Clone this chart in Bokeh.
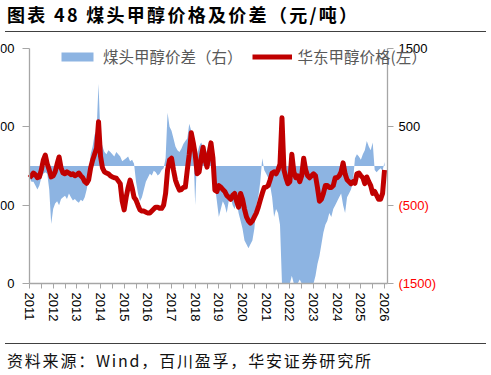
from bokeh.plotting import figure
from bokeh.models import (Range1d, LinearAxis, FixedTicker, Legend, LegendItem,
                          Div, ColumnDataSource, CustomJSTickFormatter)
from bokeh.layouts import column
from bokeh.embed import file_html
from bokeh.resources import INLINE

# ---------------- data (monthly, Jan 2011 .. Jan 2026) ----------------
start_year = 2011
# 华东甲醇价格 (元/吨, left axis)
price = [
    2700, 2750, 2820, 2780, 2700, 2720, 2900, 3150, 3280, 3050, 2900, 2720,   # 2011
    2750, 2850, 3050, 3230, 2950, 2820, 2800, 2850, 2820, 2780, 2800, 2750,   # 2012
    2780, 2820, 2750, 2700, 2600, 2560, 2650, 2950, 3150, 3300, 3450, 4130,   # 2013
    3250, 2950, 2850, 2820, 2800, 2750, 2720, 2700, 2690, 2620, 2550, 2100,   # 2014
    1880, 2200, 2450, 2640, 2450, 2200, 2130, 2000, 1880, 1850, 1850, 1820,   # 2015
    1800, 1800, 1850, 1900, 1950, 1950, 1920, 1920, 2000, 2300, 2900, 3150,   # 2016
    3200, 2900, 2640, 2500, 2385, 2400, 2450, 2460, 2900, 3300, 3850, 3600,   # 2017
    3300, 2800, 2850, 3200, 3480, 3150, 2970, 3300, 3590, 3200, 2385, 2350,   # 2018
    2500, 2460, 2400, 2350, 2250, 2200, 2150, 2250, 2300, 2100, 1950, 2300,   # 2019
    2150, 1900, 1700, 1600, 1540, 1600, 1700, 1800, 1950, 2130, 2300, 2450,   # 2020
    2460, 2500, 2650, 2820, 2850, 2800, 2900, 3050, 4230, 2900, 2700, 2550,   # 2021
    2600, 3300, 2850, 2700, 2750, 2600, 2750, 3200, 2900, 2750, 2700, 2750,   # 2022
    2800, 2750, 2450, 2100, 2150, 2300, 2500, 2500, 2450, 2450, 2500, 2700,   # 2023
    2700, 2750, 2850, 3080, 2800, 2650, 2600, 2550, 2600, 2560, 2800, 2820,   # 2024
    2750, 2700, 2550, 2720, 2600, 2500, 2300, 2350, 2250, 2150, 2150, 2300,   # 2025
    2900,                                                                     # 2026
]
# 煤头甲醇价差 (元/吨, right axis)
spread = [
    -150, -200, -200, -250, -300, -250, -150, -100, -80, -100, -300, -740,    # 2011
    -550, -480, -450, -500, -420, -400, -380, -420, -350, -400, -440, -420,   # 2012
    -450, -470, -430, -450, -400, -300, -150, 150, 250, 400, 450, 1050,       # 2013
    350, 250, 180, 150, 200, 180, 150, 120, 180, 150, 120, 60,                # 2014
    80, 100, 120, 60, 80, 30, -200, -350, -450, -400, -300, -200,             # 2015
    -150, -100, -120, -60, -80, -120, -100, -50, -30, 100, 680, 500,          # 2016
    450, 350, 250, 200, 180, 220, 280, 320, 350, 540, 450, 300,               # 2017
    -500, 150, 250, 300, 250, 150, 200, 300, 320, 250, -250, -450,            # 2018
    -650, -550, -450, -500, -600, -450, -400, -500, -550, -450, -600, -700,   # 2019
    -800, -950, -1000, -1050, -1000, -950, -800, -500, -400, -200, 100, -50,  # 2020
    -100, -150, -250, -400, -650, -550, -600, -750, -1500, -1700, -1600, -1500,  # 2021
    -1550, -1400, -1600, -1500, -1650, -1450, -1600, -1550, -1500, -1600, -1650, -1500,  # 2022
    -1500, -1400, -1250, -1150, -1000, -850, -750, -700, -600, -650, -550, -500,  # 2023
    -450, -400, -350, -500, -600, -400, -350, -300, -200, 100, 150, 120,      # 2024
    80, 150, 200, 320, 250, 200, 300, -50, -80, -50, -30, -60,                # 2025
    50,                                                                       # 2026
]
year_ticks = list(range(2011, 2027))
left_ticks = [0, 2000, 4000, 6000]
right_ticks = [-1500, -500, 500, 1500]
series_names = ["煤头甲醇价差（右）", "华东甲醇价格(左）"]
title_text = "图表 48 煤头甲醇价格及价差（元/吨）"
source_text = "资料来源：Wind，百川盈孚，华安证券研究所"

LEFT_MIN, LEFT_MAX = left_ticks[0], left_ticks[-1]
RIGHT_MIN, RIGHT_MAX = right_ticks[0], right_ticks[-1]

t = [start_year + i / 12 for i in range(len(price))]
# values beyond the right axis minimum are cut at the axis, as in the source chart
spread_shown = [max(RIGHT_MIN, min(RIGHT_MAX, v)) for v in spread]
src = ColumnDataSource(dict(t=t, price=price, spread=spread_shown))

FONT = "Liberation Sans"
CJK = "Noto Sans CJK SC"
AX = "#A6A6A6"

# plot-box geometry in pixels (the axes box is 358 x 235 px; the drawing area
# reaches 29 px to its left, 83 px to its right, 8 px above and 55 px below)
BOX_W, BOX_H = 358.0, 235.0
PAD_L, PAD_R, PAD_TOP, PAD_BOT = 29.0, 83.0, 8.0, 55.0
X0, X_AXIS_END = 2011.0, 2026.125
upy = (X_AXIS_END - X0) / BOX_W
upp_l = (LEFT_MAX - LEFT_MIN) / BOX_H
upp_r = (RIGHT_MAX - RIGHT_MIN) / BOX_H

p = figure(width=475, height=304,
           x_range=Range1d(X0 - PAD_L * upy, X_AXIS_END + PAD_R * upy),
           y_range=Range1d(LEFT_MIN - PAD_BOT * upp_l, LEFT_MAX + PAD_TOP * upp_l),
           output_backend="svg", toolbar_location=None, title=None,
           min_border_left=0, min_border_right=5, min_border_top=6, min_border_bottom=0,
           margin=(0, 0, 0, -8))
p.extra_y_ranges = {"r": Range1d(RIGHT_MIN - PAD_BOT * upp_r, RIGHT_MAX + PAD_TOP * upp_r)}
p.outline_line_color = None
p.background_fill_color = "white"
p.border_fill_color = "white"
p.grid.visible = False

area = p.varea(x="t", y1=0, y2="spread", source=src, y_range_name="r",
               fill_color="#8DB4E2", fill_alpha=1.0)
line = p.line(x="t", y="price", source=src, line_color="#C00000", line_width=5,
              line_join="round")

# x axis, drawn at the left axis minimum
xa = p.xaxis[0]
xa.fixed_location = LEFT_MIN
xa.bounds = (X0, X_AXIS_END)
xa.ticker = FixedTicker(ticks=year_ticks, minor_ticks=[y + 0.5 for y in range(2011, 2026)])
xa.major_label_orientation = "vertical"
xa.major_label_text_font = FONT
xa.major_label_text_font_size = "13px"
xa.major_label_text_color = "black"
xa.axis_line_color = AX
xa.axis_line_width = 1.3
xa.major_tick_line_color = AX
xa.minor_tick_line_color = AX
xa.major_tick_in = 0
xa.major_tick_out = 5
xa.minor_tick_in = 0
xa.minor_tick_out = 5
xa.major_label_standoff = 4

# left axis, drawn at the start of the time axis
ya = p.yaxis[0]
ya.fixed_location = X0
ya.bounds = (LEFT_MIN, LEFT_MAX)
ya.ticker = FixedTicker(ticks=left_ticks)
ya.major_label_text_font = FONT
ya.major_label_text_font_size = "13px"
ya.major_label_text_color = "black"
ya.axis_line_color = AX
ya.axis_line_width = 1.3
ya.major_tick_line_color = AX
ya.major_tick_in = 0
ya.major_tick_out = 7
ya.minor_tick_line_color = None
ya.major_label_standoff = 8

# right axis (drawn at the end of the time axis): positive labels black, negative red
pos_ticks = [v for v in right_ticks if v > 0]
neg_ticks = [v for v in right_ticks if v < 0]
ra = LinearAxis(y_range_name="r", ticker=FixedTicker(ticks=pos_ticks), fixed_location=X_AXIS_END,
                bounds=(RIGHT_MIN, RIGHT_MAX))
rb = LinearAxis(y_range_name="r", ticker=FixedTicker(ticks=neg_ticks), fixed_location=X_AXIS_END,
                bounds=(RIGHT_MIN, RIGHT_MAX),
                formatter=CustomJSTickFormatter(code="return '(' + Math.abs(tick) + ')';"))
for ax, col in ((ra, "black"), (rb, "#FF0000")):
    ax.major_label_text_font = FONT
    ax.major_label_text_font_size = "13px"
    ax.major_label_text_color = col
    ax.axis_line_color = AX
    ax.axis_line_width = 1.3
    ax.major_tick_line_color = AX
    ax.major_tick_in = 0
    ax.major_tick_out = 6
    ax.minor_tick_line_color = None
    ax.major_label_standoff = 5
    p.add_layout(ax, "right")
rb.axis_line_color = None

legend = Legend(items=[LegendItem(label=series_names[0], renderers=[area]),
                       LegendItem(label=series_names[1], renderers=[line])],
                orientation="horizontal", location=(57, 271),
                padding=0, margin=0, spacing=9, glyph_width=40, glyph_height=11,
                label_standoff=6, label_text_font=CJK, label_text_font_size="15.5px",
                label_text_color="#595959", border_line_color=None,
                background_fill_alpha=0)
p.add_layout(legend, "center")

title_div = Div(
    text=('<div style="font-family:\'Noto Sans CJK SC\';font-size:18px;font-weight:bold;'
          'letter-spacing:2.3px;line-height:20px;margin:-4px 0 0 -1px;white-space:nowrap;'
          'color:#000;">%s</div>'
          '<div style="margin:7px 0 0 -3px;width:481px;border-top:1.5px solid #404040;"></div>')
    % title_text,
    width=478, height=26, margin=0)

footer_div = Div(
    text=('<div style="margin:5px 0 0 -3px;width:481px;border-top:1.5px solid #404040;"></div>'
          '<div style="font-family:\'Noto Sans CJK SC\';font-size:16px;letter-spacing:1.8px;'
          'line-height:20px;margin:6px 0 0 -1px;white-space:nowrap;color:#111;">%s</div>')
    % source_text,
    width=478, height=28, margin=0)

layout = column(title_div, p, footer_div, spacing=0, margin=(8, 0, 0, 8))

open("out.html", "w").write(file_html(layout, INLINE))
